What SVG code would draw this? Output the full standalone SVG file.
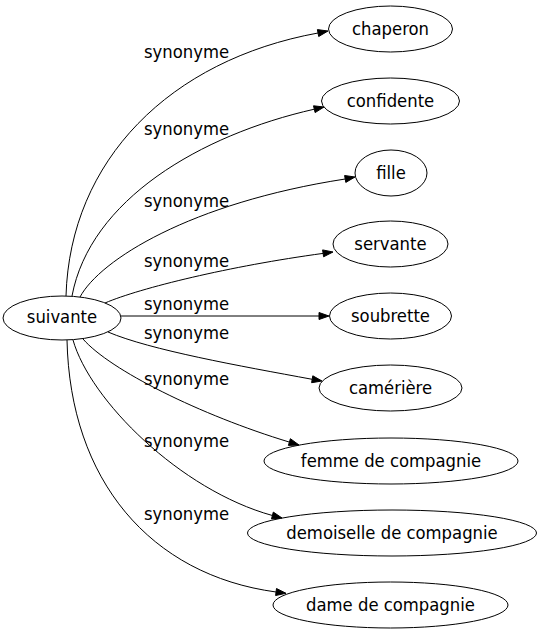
<svg xmlns="http://www.w3.org/2000/svg" width="542" height="635" viewBox="0 0 542 635">
<style>
text{font-family:"DejaVu Sans Condensed","DejaVu Sans",sans-serif;font-stretch:condensed;font-size:18.3px;fill:#000;text-anchor:middle}
.node ellipse{fill:none;stroke:#000;stroke-width:1}
.edge path{fill:none;stroke:#000;stroke-width:1}
.edge polygon{fill:#000;stroke:#000;stroke-width:1}
</style>
<rect width="542" height="635" fill="#fff"/>
<g id="edges">
<g class="edge" id="e1"><path d="M66,296 C70,160 170,60 318,33"/><polygon points="328,31 317.4,29.6 318.7,36.5"/><text x="186.5" y="58">synonyme</text></g>
<g class="edge" id="e2"><path d="M72,296 C90,200 200,135 314.3,109.2"/><polygon points="324,107 313.5,105.8 315.1,112.6"/><text x="186.5" y="135">synonyme</text></g>
<g class="edge" id="e3"><path d="M80,297 C100,260 190,203 345.2,179"/><polygon points="355,177 344.6,175.5 345.8,182.4"/><text x="186.5" y="207">synonyme</text></g>
<g class="edge" id="e4"><path d="M105,303 C140,288 230,266 323.1,253.4"/><polygon points="333,252 322.6,249.9 323.6,256.8"/><text x="186.5" y="267">synonyme</text></g>
<g class="edge" id="e5"><path d="M121,316 L319,316"/><polygon points="329,316 319,312.5 319,319.5"/><text x="186.5" y="310">synonyme</text></g>
<g class="edge" id="e6"><path d="M108,332 C150,350 240,366 312.2,379.3"/><polygon points="322,381 312.8,375.8 311.6,382.7"/><text x="186.5" y="339">synonyme</text></g>
<g class="edge" id="e7"><path d="M83,339 C110,370 200,415 289.4,442.1"/><polygon points="299,445 290.4,438.7 288.4,445.4"/><text x="186.5" y="385">synonyme</text></g>
<g class="edge" id="e8"><path d="M73,340 C90,400 180,490 272.4,515.5"/><polygon points="282,518 273.3,512.1 271.5,518.9"/><text x="186.5" y="447">synonyme</text></g>
<g class="edge" id="e9"><path d="M67,340 C70,480 150,575 276.1,592"/><polygon points="286,593.3 276.5,588.5 275.6,595.5"/><text x="186.5" y="520">synonyme</text></g>
</g>
<g class="node" id="suivante"><ellipse cx="62" cy="318" rx="59" ry="22"/><text x="62" y="323">suivante</text></g>
<g class="node" id="chaperon"><ellipse cx="390.5" cy="29" rx="62" ry="23"/><text x="390.5" y="35">chaperon</text></g>
<g class="node" id="confidente"><ellipse cx="390.5" cy="101" rx="69" ry="23"/><text x="390.5" y="107">confidente</text></g>
<g class="node" id="fille"><ellipse cx="391" cy="173" rx="36" ry="23"/><text x="391" y="179">fille</text></g>
<g class="node" id="servante"><ellipse cx="390.5" cy="244" rx="57.5" ry="23"/><text x="390.5" y="250">servante</text></g>
<g class="node" id="soubrette"><ellipse cx="390.5" cy="316" rx="61" ry="23"/><text x="390.5" y="322">soubrette</text></g>
<g class="node" id="camériere"><ellipse cx="390.5" cy="388" rx="71.5" ry="23"/><text x="390.5" y="394">camérière</text></g>
<g class="node" id="femme"><ellipse cx="391" cy="461" rx="127" ry="23"/><text x="391" y="467">femme de compagnie</text></g>
<g class="node" id="demoiselle"><ellipse cx="392" cy="533" rx="144.5" ry="23"/><text x="392" y="539">demoiselle de compagnie</text></g>
<g class="node" id="dame"><ellipse cx="390.5" cy="605" rx="117.5" ry="23"/><text x="390.5" y="611">dame de compagnie</text></g>
</svg>
